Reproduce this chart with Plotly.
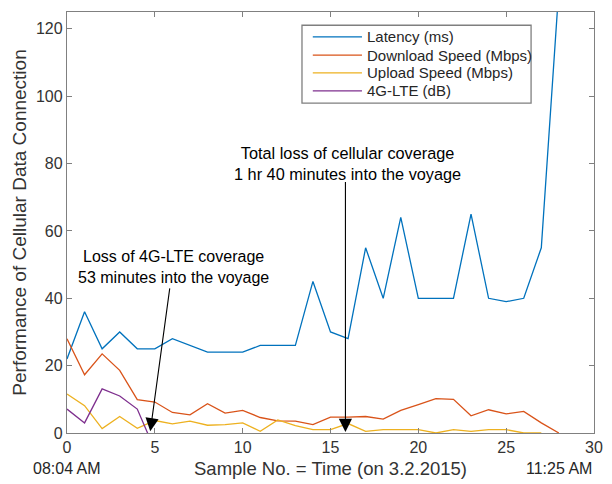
import plotly.graph_objects as go

sample_latency = list(range(0, 29))
latency = [22, 36, 25, 30, 25, 25, 28, 26, 24, 24, 24, 26, 26, 26, 45, 30, 28, 55, 40, 64,
           40, 40, 40, 65, 40, 39, 40, 55, 132]
download = [28, 17.3, 23.5, 18.6, 9.9, 9.2, 6.1, 5.4, 8.7, 5.9, 6.7, 4.6, 3.6, 3.5, 2.5, 4.7,
            4.7, 4.9, 4.1, 6.7, 8.4, 10.2, 10, 5.1, 6.9, 5.7, 6.4, 3.0, 0]
sample_upload = list(range(0, 28))
upload = [11.6, 8.1, 1.3, 4.9, 1.4, 3.7, 2.7, 3.5, 2.3, 2.5, 3.0, 0.5, 3.9, 2.2, 1.0, 1.0,
          2.8, 0.5, 1.0, 1.0, 1.0, 0, 1.0, 0.5, 1.0, 1.0, 0, 0]
sample_lte = list(range(0, 6))
lte = [7.1, 3.0, 13.1, 11.0, 7.1, -5]

names = ["Latency (ms)", "Download Speed (Mbps)", "Upload Speed (Mbps)", "4G-LTE (dB)"]
colors = ["#0072BD", "#D95319", "#EDB120", "#7E2F8E"]

x_ticks = [0, 5, 10, 15, 20, 25, 30]
y_ticks = [0, 20, 40, 60, 80, 100, 120]

fig = go.Figure()
for xs, ys, n, c in [(sample_latency, latency, names[0], colors[0]),
                     (sample_latency, download, names[1], colors[1]),
                     (sample_upload, upload, names[2], colors[2]),
                     (sample_lte, lte, names[3], colors[3])]:
    fig.add_trace(go.Scatter(x=xs, y=ys, mode="lines", name=n, showlegend=False,
                             line=dict(color=c, width=1.3)))

axis_color = "#808080"
font_fam = "Liberation Sans, Arial, sans-serif"
txt = "#262626"

fig.update_layout(
    width=612, height=484,
    margin=dict(l=67, r=9, t=12, b=51),
    paper_bgcolor="white", plot_bgcolor="white",
    font=dict(family=font_fam, size=16, color=txt),
    showlegend=False,
    xaxis=dict(range=[0, 30], tickvals=x_ticks, ticks="inside", ticklen=5,
               tickcolor=axis_color, showline=True, linecolor=axis_color, linewidth=1.3,
               mirror="ticks", showgrid=False, zeroline=False,
               tickfont=dict(size=16, color="#333333")),
    yaxis=dict(range=[0, 125], tickvals=y_ticks, ticks="inside", ticklen=5,
               tickcolor=axis_color, showline=True, linecolor=axis_color, linewidth=1.3,
               mirror="ticks", showgrid=False, zeroline=False,
               tickfont=dict(size=16, color="#333333"),
               title=dict(text="Performance of Cellular Data Connection",
                          font=dict(size=19, color="#333333"), standoff=4)),
)

# manual legend (MATLAB style box)
leg_x0, leg_x1, leg_y0, leg_y1 = 0.4459, 0.8806, 0.7834, 0.9685
row_y = [0.9408, 0.8974, 0.8554, 0.8127]
fig.add_shape(type="rect", xref="paper", yref="paper", x0=leg_x0, x1=leg_x1,
              y0=leg_y0, y1=leg_y1, line=dict(color="#7f7f7f", width=1.3),
              fillcolor="white", layer="above")
for n, c, yy in zip(names, colors, row_y):
    fig.add_shape(type="line", xref="paper", yref="paper", x0=0.4664, x1=0.5597,
                  y0=yy, y1=yy, line=dict(color=c, width=1.3), layer="above")
    fig.add_annotation(xref="paper", yref="paper", x=0.5653, y=yy, xanchor="left",
                       yanchor="middle", text=n, showarrow=False,
                       font=dict(size=15, color=txt))

# x-axis labels below
fig.add_annotation(xref="paper", yref="paper", x=0.5, y=-0.085, yanchor="middle",
                   text="Sample No. = Time (on 3.2.2015)", showarrow=False,
                   font=dict(size=18.5, color="#333333"))
fig.add_annotation(x=0, xref="x", yref="paper", y=-0.085, yanchor="middle",
                   text="08:04 AM", showarrow=False, font=dict(size=16, color=txt))
fig.add_annotation(x=28, xref="x", yref="paper", y=-0.085, yanchor="middle",
                   text="11:25 AM", showarrow=False, font=dict(size=16, color=txt))

# arrows
fig.add_annotation(x=4.74, y=0.5, ax=5.86, ay=43.4, xref="x", yref="y", axref="x", ayref="y",
                   showarrow=True, arrowhead=2, arrowsize=2.4, arrowwidth=1.1,
                   arrowcolor="black", text="")
fig.add_annotation(x=15.85, y=0.3, ax=15.85, ay=75, xref="x", yref="y", axref="x", ayref="y",
                   showarrow=True, arrowhead=2, arrowsize=2.4, arrowwidth=1.1,
                   arrowcolor="black", text="")
fig.add_annotation(x=6.04, y=49.3, xref="x", yref="y", showarrow=False,
                   text="Loss of 4G-LTE coverage<br>53 minutes into the voyage",
                   font=dict(size=16, color="black"))
fig.add_annotation(x=15.95, y=80, xref="x", yref="y", showarrow=False,
                   text="Total loss of cellular coverage<br>1 hr 40 minutes into the voyage",
                   font=dict(size=16.3, color="black"))

fig.write_html("out.html")
